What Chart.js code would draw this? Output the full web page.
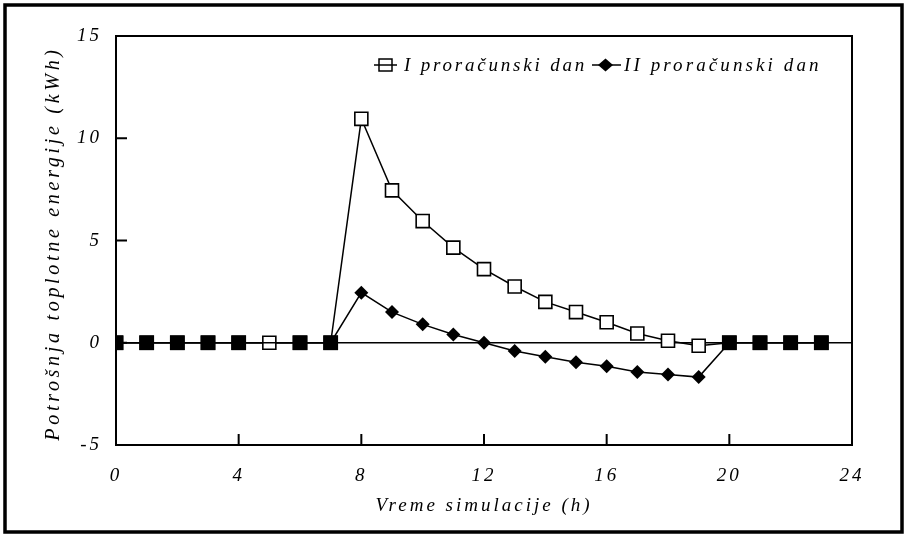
<!DOCTYPE html>
<html>
<head>
<meta charset="utf-8">
<script src="https://cdn.jsdelivr.net/npm/chart.js@4/dist/chart.umd.min.js"></script>
<style>
html,body{margin:0;padding:0;background:#fff;}
#wrap{width:908px;height:537px;position:relative;}
</style>
</head>
<body>
<div id="wrap"><canvas id="c" width="908" height="537"></canvas></div>
<script>
const hours = [0,1,2,3,4,5,6,7,8,9,10,11,12,13,14,15,16,17,18,19,20,21,22,23];
const day1 = [0,0,0,0,0,0,0,0,10.95,7.45,5.95,4.65,3.6,2.75,2.0,1.5,1.0,0.45,0.1,-0.15,0,0,0,0];
const day2 = [0,0,0,0,0,0,0,0,2.45,1.5,0.9,0.4,0,-0.4,-0.68,-0.95,-1.15,-1.43,-1.55,-1.68,0,0,0,0];
const xTicks = [0,4,8,12,16,20,24];
const yTicks = [-5,0,5,10,15];
const label1 = 'I proračunski dan';
const label2 = 'II proračunski dan';
const xTitle = 'Vreme simulacije (h)';
const yTitle = 'Potrošnja toplotne energije (kWh)';

const FONT = "'Liberation Serif', 'DejaVu Serif', serif";

// Points where the second day sits on zero are drawn as filled squares (overlapping markers)
const d2Style = day2.map((v,i)=> (i<8 || i>=20) ? 'rect' : 'rectRot');
const d2Radius = day2.map((v,i)=> (i===5) ? 0 : ((i<8 || i>=20) ? 10.5 : 7));

const frame = {
  id:'frame',
  beforeDraw(chart){ chart.ctx.letterSpacing = '3px'; },
  afterDraw(chart){
    const {ctx, chartArea:a, scales:{x,y}} = chart;
    ctx.save();
    ctx.letterSpacing = '0px';
    ctx.strokeStyle = '#000';
    // plot border
    ctx.lineWidth = 2;
    ctx.strokeRect(a.left, a.top, a.right-a.left, a.bottom-a.top);
    // inward ticks
    ctx.lineWidth = 2;
    ctx.beginPath();
    xTicks.forEach(t=>{ const px = x.getPixelForValue(t); ctx.moveTo(px, a.bottom); ctx.lineTo(px, a.bottom-11); });
    yTicks.forEach(t=>{ const py = y.getPixelForValue(t); ctx.moveTo(a.left, py); ctx.lineTo(a.left+11, py); });
    ctx.stroke();
    // outer border
    ctx.lineWidth = 3.5;
    ctx.strokeRect(5, 5, 897, 527);
    // legend
    const ly = 65;
    ctx.lineWidth = 1.5;
    ctx.fillStyle = '#fff';
    ctx.fillRect(379, ly-6, 13, 12);
    ctx.strokeRect(379, ly-6, 13, 12);
    ctx.beginPath(); ctx.moveTo(374, ly); ctx.lineTo(397, ly); ctx.stroke();
    ctx.beginPath(); ctx.moveTo(592, ly); ctx.lineTo(621, ly); ctx.stroke();
    ctx.fillStyle = '#000';
    ctx.beginPath(); ctx.moveTo(598, ly); ctx.lineTo(605.5, ly-6.5); ctx.lineTo(613, ly); ctx.lineTo(605.5, ly+6.5); ctx.closePath(); ctx.fill();
    ctx.font = "italic 19px " + FONT;
    ctx.letterSpacing = '2.8px';
    ctx.textBaseline = 'middle';
    ctx.textAlign = 'left';
    ctx.fillText(chart.data.datasets[0].label, 404, ly+1);
    ctx.letterSpacing = '3.1px';
    ctx.fillText(chart.data.datasets[1].label, 624, ly+1);
    // y axis title
    ctx.save();
    ctx.translate(54, (a.top + a.bottom)/2 + 3);
    ctx.rotate(-Math.PI/2);
    ctx.font = "italic 20px " + FONT;
    ctx.letterSpacing = '3.7px';
    ctx.textAlign = 'center';
    ctx.fillText(yTitle, 0, 0);
    ctx.restore();
    ctx.restore();
  }
};

new Chart(document.getElementById('c'), {
  type:'line',
  data:{
    labels: hours,
    datasets:[
      {label:label1, data:hours.map((h,i)=>({x:h,y:day1[i]})), borderColor:'#000', borderWidth:1.5,
       pointStyle:'rect', pointRadius:9.2, pointBorderWidth:1.6, pointBorderColor:'#000',
       pointBackgroundColor:'#fff', tension:0, order:2},
      {label:label2, data:hours.map((h,i)=>({x:h,y:day2[i]})), borderColor:'#000', borderWidth:1.5,
       pointStyle:d2Style, pointRadius:d2Radius, pointBorderWidth:0, pointBorderColor:'#000',
       pointBackgroundColor:'#000', tension:0, order:1}
    ]
  },
  options:{
    responsive:false, animation:false,
    layout:{padding:{left:0, top:36, right:56, bottom:0}},
    plugins:{legend:{display:false}, tooltip:{enabled:false}},
    scales:{
      x:{type:'linear', min:0, max:24,
        afterBuildTicks(s){ s.ticks = xTicks.map(v=>({value:v})); },
        afterFit(s){ s.height = 92; },
        grid:{display:false, drawTicks:false},
        border:{display:false},
        ticks:{padding:20, color:'#000', font:{family:FONT, size:19, style:'italic'}, maxRotation:0},
        title:{display:true, text:xTitle, color:'#000', font:{family:FONT, size:19, style:'italic'}, padding:{top:0,bottom:20}}
      },
      y:{min:-5, max:15,
        afterBuildTicks(s){ s.ticks = yTicks.map(v=>({value:v})); },
        afterFit(s){ s.width = 116; },
        grid:{drawTicks:false, lineWidth:1.5, color:(c)=> (c.tick && c.tick.value===0) ? '#000' : 'rgba(0,0,0,0)'},
        border:{display:false},
        ticks:{padding:14, color:'#000', font:{family:FONT, size:19, style:'italic'}},
        title:{display:false, text:yTitle}
      }
    }
  },
  plugins:[frame]
});
</script>
</body>
</html>
